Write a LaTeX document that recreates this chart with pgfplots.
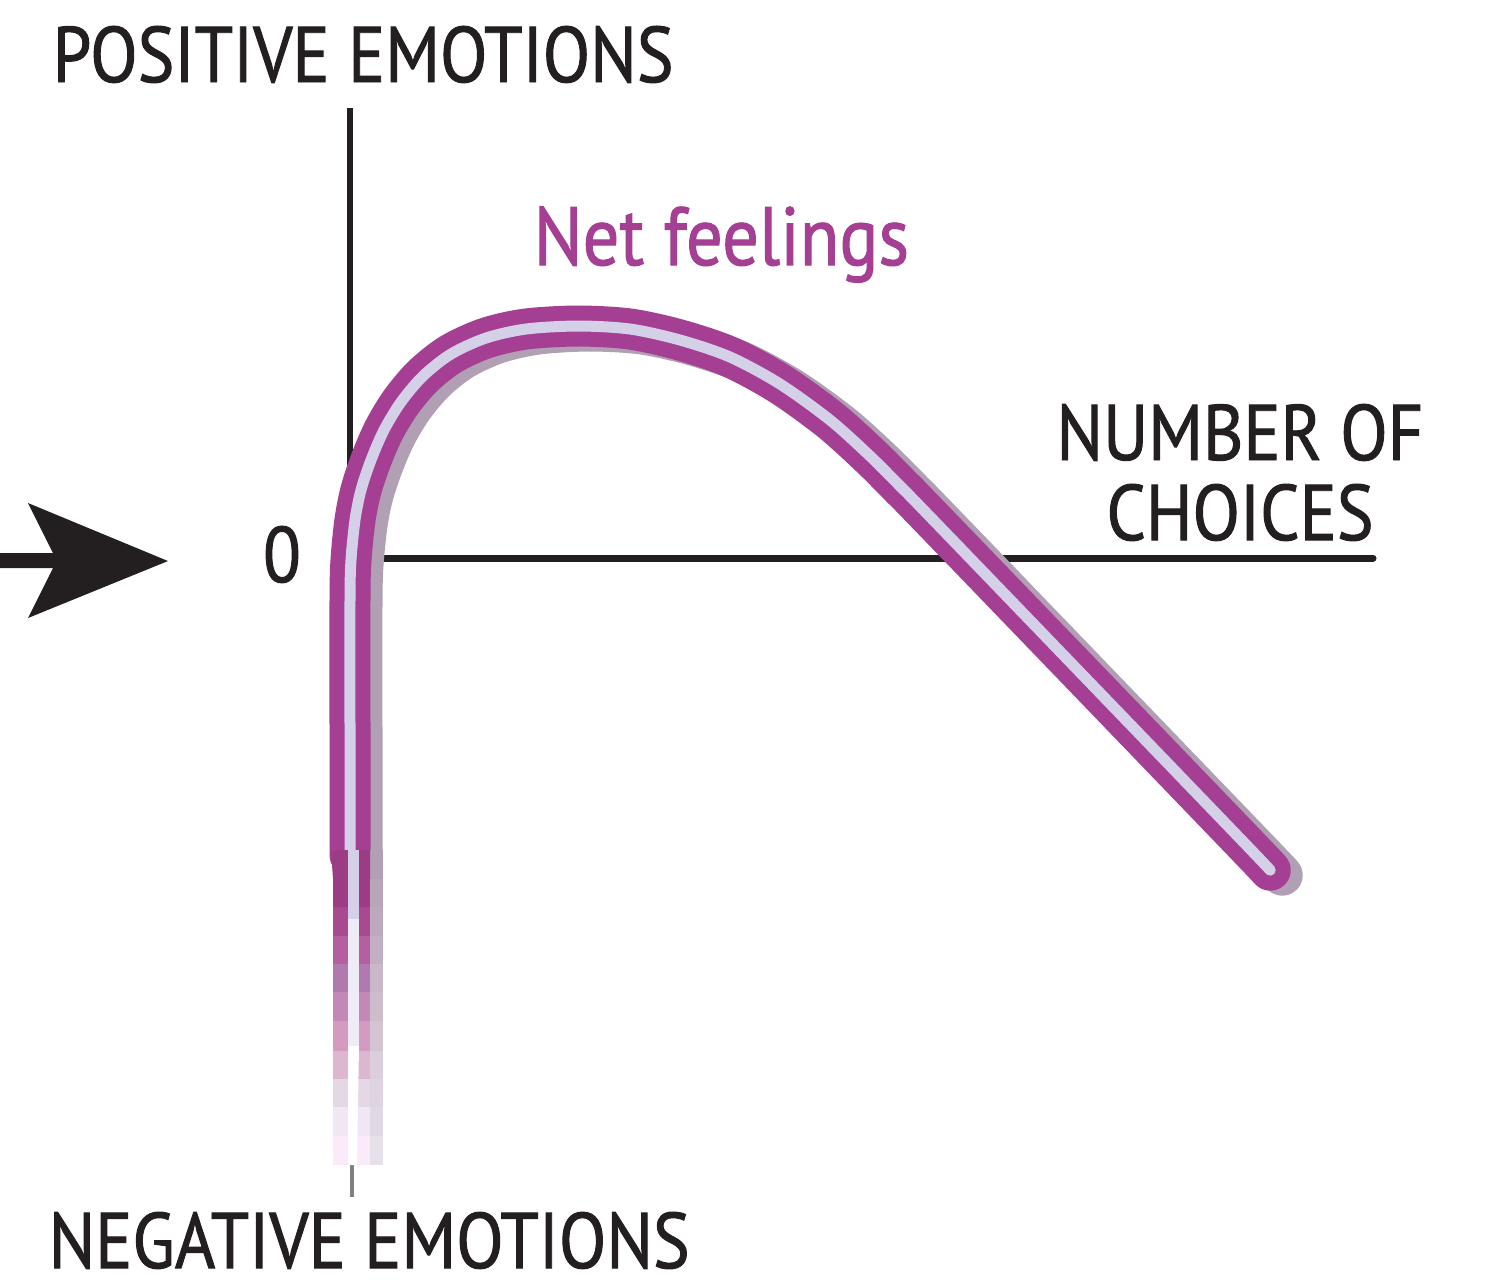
\documentclass[border=0pt]{standalone}
\usepackage{pgfplots}
\pgfplotsset{compat=1.18}
\usepackage{pgfplotstable}
\usepackage{fontspec}
\setmainfont{PT Sans}[FakeStretch=0.88, FakeBold=1.2]

\definecolor{ink}{HTML}{231F20}
\definecolor{plum}{HTML}{A43F94}
\definecolor{lav}{HTML}{D4D0E8}
\definecolor{lavpale}{HTML}{EEEDF7}
\definecolor{shadowc}{HTML}{B19FB3}
% faded tail: band and shadow colours, top to bottom
\definecolor{tA}{HTML}{9C3C84}\definecolor{sA}{HTML}{B8A6B8}
\definecolor{tB}{HTML}{A84A90}\definecolor{sB}{HTML}{BCAABC}
\definecolor{tC}{HTML}{B460A0}\definecolor{sC}{HTML}{C2B0C2}
\definecolor{tD}{HTML}{B07AAE}\definecolor{sD}{HTML}{C8B8C8}
\definecolor{tE}{HTML}{C488B8}\definecolor{sE}{HTML}{CCBCCC}
\definecolor{tF}{HTML}{D49AC0}\definecolor{sF}{HTML}{D2C4D2}
\definecolor{tG}{HTML}{DCB8D0}\definecolor{sG}{HTML}{DCCFDC}
\definecolor{tH}{HTML}{E4D8E4}\definecolor{sH}{HTML}{DDD4E0}
\definecolor{tI}{HTML}{F0E6F4}\definecolor{sI}{HTML}{E0D8E4}
\definecolor{tJ}{HTML}{FAEAFA}\definecolor{sJ}{HTML}{E6E0E8}

% centre line of the curve, picture pixels (y grows downwards)
\pgfplotstableread{
x y
350 855
350 740
350 600
351 560
355 520
361 490
371 460
384 430
401 402
423 376
451 354
486 338
526 329
578 326
630 329
680 340
730 357
780 384
830 420
870 456
900 486
940 527
1230 828
1270 870
}\netcurve

% one step of the faded tail: top, bottom, band colour, shadow colour
\newcommand{\tailstep}[4]{%
  \addplot[draw=none, fill=#4] coordinates {(370,#1) (383,#1) (383,#2) (370,#2)} --cycle;
  \addplot[draw=none, fill=#3] coordinates {(333,#1) (370,#1) (370,#2) (333,#2)} --cycle;
}

\begin{document}
\begin{tikzpicture}
\begin{axis}[
    width=14.96cm, height=12.86cm, scale only axis,
    xmin=0, xmax=1496, ymin=0, ymax=1286,
    y dir=reverse, hide axis, clip=false,
  ]
  \addplot[draw=none] coordinates {(0,0) (1496,1286)};

  % axes
  \addplot[ink, line width=0.06cm] coordinates {(350,108) (350,880)};
  \addplot[gray, line width=0.04cm] coordinates {(352,1165) (352,1197)};
  \addplot[ink, line width=0.07cm, line cap=round] coordinates {(350,558) (1373,558)};

  % arrow pointing at zero
  \addplot[draw=none, fill=ink] coordinates {
    (0,553) (53,553) (28,503) (168,561) (28,618) (53,568) (0,568)} --cycle;

  % net feelings curve: shadow, band, light core
  \addplot[shadowc, line width=0.41cm, smooth, line join=round, line cap=round]
    table[x expr=\thisrow{x}+12, y expr=\thisrow{y}+5] {\netcurve};
  \addplot[plum, line width=0.41cm, smooth, line join=round, line cap=round] table {\netcurve};
  \addplot[lav, line width=0.11cm, smooth, line join=round, line cap=round] table {\netcurve};

  % faded tail below the curve
  \tailstep{878}{908}{tA}{sA}
  \tailstep{907}{937}{tB}{sB}
  \tailstep{936}{965}{tC}{sC}
  \tailstep{964}{993}{tD}{sD}
  \tailstep{992}{1022}{tE}{sE}
  \tailstep{1021}{1052}{tF}{sF}
  \tailstep{1051}{1080}{tG}{sG}
  \tailstep{1079}{1108}{tH}{sH}
  \tailstep{1107}{1137}{tI}{sI}
  \tailstep{1136}{1165}{tJ}{sJ}
  \addplot[draw=none, fill=shadowc] coordinates {(370,850) (383,850) (383,879) (370,879)} --cycle;
  \addplot[draw=none, fill=tA] coordinates {(331,850) (370,850) (370,879) (333,879)} --cycle;
  \addplot[draw=none, fill=lav] coordinates {(348,850) (359,850) (359,920) (348,920)} --cycle;
  \addplot[draw=none, fill=lavpale] coordinates {(348,919) (359,919) (359,1047) (348,1047)} --cycle;
  \addplot[draw=none, fill=white] coordinates {(348,1046) (359,1046) (357,1165) (348,1165)} --cycle;

  % labels
  \node[anchor=base west, inner sep=0, ink, font=\fontsize{22.4}{26}\selectfont]
    at (axis cs:52,82) {POSITIVE EMOTIONS};
  \node[anchor=base west, inner sep=0, ink, font=\fontsize{22.4}{26}\selectfont]
    at (axis cs:48,1268) {NEGATIVE EMOTIONS};
  \node[anchor=base, inner sep=0, ink, font=\fontsize{22.4}{26}\selectfont]
    at (axis cs:1240,460) {NUMBER OF};
  \node[anchor=base, inner sep=0, ink, font=\fontsize{22.4}{26}\selectfont]
    at (axis cs:1240,540) {CHOICES};
  \node[anchor=base, inner sep=0, ink, font=\fontsize{22.4}{26}\selectfont]
    at (axis cs:282,582) {0};
  \node[anchor=base west, inner sep=0, plum, font=\fontsize{23.5}{26}\selectfont]
    at (axis cs:533,265) {Net feelings};
\end{axis}
\end{tikzpicture}
\end{document}
